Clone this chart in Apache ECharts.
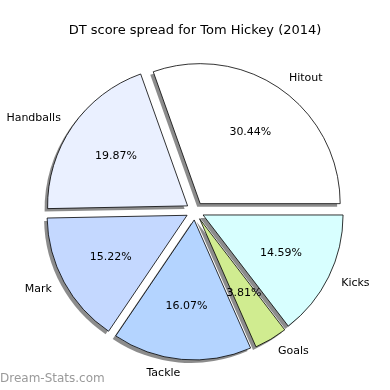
<!DOCTYPE html>
<html><head><meta charset="utf-8">
<script src="https://cdn.jsdelivr.net/npm/echarts@6/dist/echarts.min.js"></script>
<style>html,body{margin:0;padding:0;background:#fff}#c{width:390px;height:390px}</style>
</head><body><div id="c"></div>
<script>
const categories = ['Hitout', 'Handballs', 'Mark', 'Tackle', 'Goals', 'Kicks'];
const values = [30.44, 19.87, 15.22, 16.07, 3.81, 14.59];
const colors = ['#ffffff', '#eaf0ff', '#c4d8ff', '#b4d4ff', '#d0ec90', '#d8ffff'];

const R = 140, OFF = 9, CX = 195, CY = 211;
const FONT = 'DejaVu Sans';

function mk(showColor) {
  return categories.map((n, i) => ({
    name: n, value: values[i], selected: true,
    itemStyle: showColor ? { color: colors[i] } : undefined
  }));
}

const common = {
  type: 'pie', radius: [0, R], startAngle: 0, clockwise: false,
  selectedMode: 'multiple', selectedOffset: OFF, avoidLabelOverlap: false, silent: true,
  emphasis: { disabled: true }
};

const chart = echarts.init(document.getElementById('c'), null, { renderer: 'canvas' });
chart.setOption({
  animation: false,
  title: [{
    text: 'DT score spread for Tom Hickey (2014)', left: 'center', top: 19,
    textStyle: { fontFamily: FONT, fontSize: 13, fontWeight: 'normal', color: '#000' }
  }],
  graphic: [{
    type: 'text', left: 0, top: 373,
    style: { text: 'Dream-Stats.com', fontFamily: FONT, fontSize: 12, fontWeight: 'normal', fill: '#9a9a9a' }
  }],
  series: [
    Object.assign({}, common, {
      center: [CX - 3, CY + 3], z: 1,
      itemStyle: { color: 'rgba(0,0,0,0.45)', borderWidth: 0 },
      select: { itemStyle: { color: 'rgba(0,0,0,0.45)', borderWidth: 0 } },
      label: { show: false }, labelLine: { show: false },
      data: mk(false)
    }),
    Object.assign({}, common, {
      center: [CX, CY], z: 2,
      itemStyle: { borderColor: '#000', borderWidth: 0.8 },
      label: { show: true, position: 'outside', formatter: '{b}', fontFamily: FONT, fontSize: 11, color: '#000', distanceToLabelLine: 0 },
      labelLine: { show: false, length: R * 0.1, length2: 0 },
      select: { itemStyle: { borderColor: '#000', borderWidth: 0.8 } },
      data: mk(true)
    }),
    Object.assign({}, common, {
      center: [CX, CY], radius: [0, R * 1.2], z: 3,
      itemStyle: { color: 'rgba(0,0,0,0)', borderWidth: 0 },
      label: { show: true, position: 'inside', formatter: (p) => p.value.toFixed(2) + '%', fontFamily: FONT, fontSize: 11, color: '#000' },
      labelLine: { show: false },
      select: { itemStyle: { color: 'rgba(0,0,0,0)', borderWidth: 0 } },
      data: mk(false)
    })
  ]
});
</script></body></html>
